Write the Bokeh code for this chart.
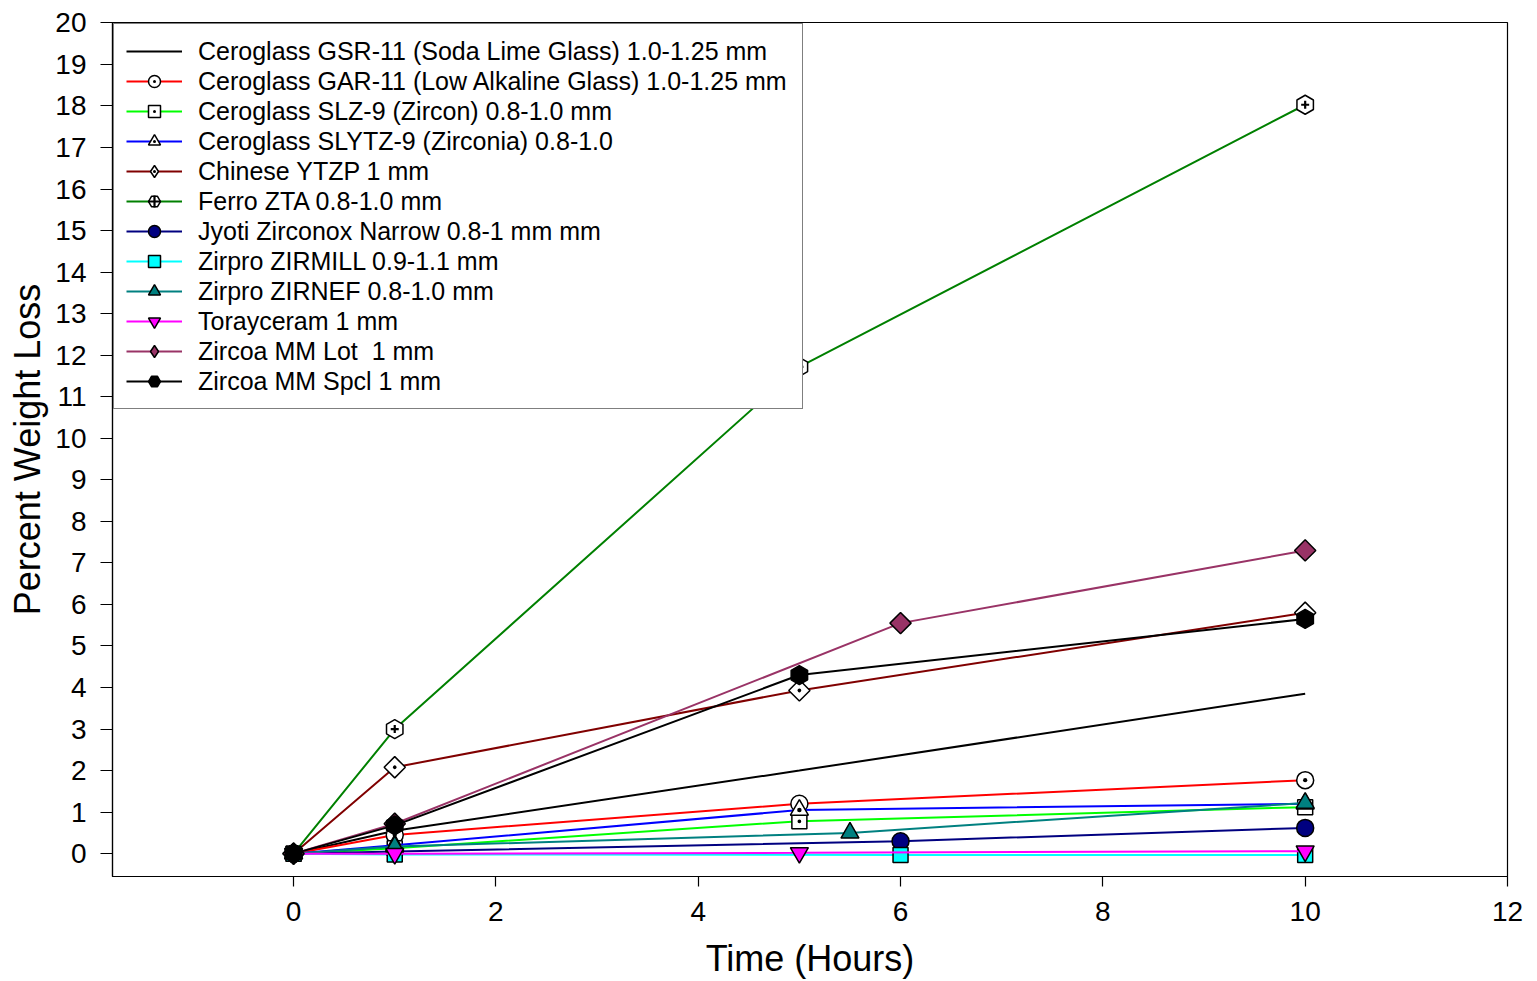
import math
from bokeh.plotting import figure
from bokeh.models import Range1d, Legend, LegendItem, ColumnDataSource
from bokeh.embed import file_html
from bokeh.resources import INLINE

# ---- data ----
time_a = [0, 1, 5, 10]
time_b = [0, 1, 6, 10]
time_c = [0, 1, 5.5, 10]

gsr11 = [0, 0.55, 2.0, 3.85]          # time_a
gar11 = [0, 0.45, 1.2, 1.77]          # time_a
slz9 = [0, 0.13, 0.78, 1.12]          # time_a
slytz9 = [0, 0.2, 1.05, 1.2]          # time_a
ytzp = [0, 2.08, 3.93, 5.8]           # time_a
ferro = [0, 3.0, 11.72, 18.03]        # time_a
jyoti = [0, 0.05, 0.3, 0.62]          # time_b
zirmill = [0, -0.02, -0.03, -0.03]    # time_b
zirnef = [0, 0.17, 0.5, 1.22]         # time_c
toray = [0, 0.0, 0.02, 0.06]          # time_a
mm_lot = [0, 0.72, 5.55, 7.3]         # time_b
mm_spcl = [0, 0.68, 4.3, 5.65]        # time_a

labels = [
    "Ceroglass GSR-11 (Soda Lime Glass) 1.0-1.25 mm",
    "Ceroglass GAR-11 (Low Alkaline Glass) 1.0-1.25 mm",
    "Ceroglass SLZ-9 (Zircon) 0.8-1.0 mm",
    "Ceroglass SLYTZ-9 (Zirconia) 0.8-1.0",
    "Chinese YTZP 1 mm",
    "Ferro ZTA 0.8-1.0 mm",
    "Jyoti Zirconox Narrow 0.8-1 mm mm",
    "Zirpro ZIRMILL 0.9-1.1 mm",
    "Zirpro ZIRNEF 0.8-1.0 mm",
    "Torayceram 1 mm",
    "Zircoa MM Lot  1 mm",
    "Zircoa MM Spcl 1 mm",
]
x_title = "Time (Hours)"
y_title = "Percent Weight Loss"
x_ticks = [0, 2, 4, 6, 8, 10, 12]
y_ticks = list(range(0, 21))

FONT = "Liberation Sans"

p = figure(width=1537, height=981, output_backend="svg", toolbar_location=None,
           x_range=Range1d(-1.79, 12), y_range=Range1d(-0.55, 20.01),
           min_border_left=112, min_border_right=30, min_border_top=22, min_border_bottom=105)
p.grid.visible = False
p.outline_line_color = "black"
p.outline_line_width = 1.2
p.background_fill_color = "white"
p.border_fill_color = "white"

for ax in (p.xaxis[0], p.yaxis[0]):
    ax.axis_line_color = "black"
    ax.axis_line_width = 1.2
    ax.major_tick_line_color = "black"
    ax.major_tick_line_width = 1.2
    ax.major_tick_in = 0
    ax.minor_tick_in = 0
    ax.minor_tick_out = 0
    ax.major_label_text_font = FONT
    ax.major_label_text_font_size = "28px"
    ax.major_label_text_color = "black"
    ax.axis_label_text_font = FONT
    ax.axis_label_text_font_size = "36px"
    ax.axis_label_text_font_style = "normal"
    ax.axis_label_text_color = "black"

p.xaxis.ticker = x_ticks
p.yaxis.ticker = y_ticks
p.xaxis.major_tick_out = 10
p.yaxis.major_tick_out = 12
p.xaxis.major_label_standoff = 15
p.yaxis.major_label_standoff = 14
p.xaxis.axis_label = x_title
p.xaxis.axis_label_standoff = 14
p.xaxis.axis_label_text_line_height = 0.75
p.yaxis.axis_label = y_title
p.yaxis.axis_label_standoff = 4

LW = 2
MLW = 1.5
items = []
nan_src = ColumnDataSource(data=dict(x=[float("nan")], y=[float("nan")]))

def series(xs, ys, color, label, marker=None, size=16, fill="white", angle=0.0,
           extra=None, legend_marker=None):
    rs = [p.line(xs, ys, line_color=color, line_width=LW)]
    if marker:
        r = p.scatter(xs, ys, marker=marker, size=size, fill_color=fill,
                      line_color="black", line_width=MLW, angle=angle)
        if legend_marker is None:
            rs.append(r)
    if extra:
        rs.append(p.scatter(xs, ys, marker=extra[0], size=extra[1], line_color="black",
                            line_width=2.2, fill_color=None))
    if legend_marker is not None:
        rs.append(p.scatter("x", "y", source=nan_src, marker=legend_marker, size=size,
                            fill_color=fill, line_color="black", line_width=MLW))
    items.append(LegendItem(label=label, renderers=rs))

series(time_a, gsr11, "black", labels[0])
series(time_a, gar11, "#FF0000", labels[1], "circle_dot", 17)
series(time_a, slz9, "#00FF00", labels[2], "square_dot", 15)
series(time_a, slytz9, "#0000FF", labels[3], "triangle_dot", 18)
series(time_a, ytzp, "#800000", labels[4], "square_dot", 15, angle=math.pi / 4,
       legend_marker="diamond_dot")
series(time_a, ferro, "#008000", labels[5], "hex", 19, angle=math.pi / 6, extra=("cross", 8))
series(time_b, jyoti, "#000080", labels[6], "circle", 17, fill="#000080")
series(time_b, zirmill, "#00FFFF", labels[7], "square", 15, fill="#00FFFF")
series(time_c, zirnef, "#008080", labels[8], "triangle", 18, fill="#008080")
series(time_a, toray, "#FF00FF", labels[9], "inverted_triangle", 18, fill="#FF00FF")
series(time_b, mm_lot, "#993366", labels[10], "square", 15, fill="#993366", angle=math.pi / 4,
       legend_marker="diamond")
series(time_a, mm_spcl, "black", labels[11], "hex", 19, fill="black", angle=math.pi / 6)

legend = Legend(items=items, location="top_left", margin=1, padding=12, spacing=0,
                glyph_width=56, glyph_height=30, label_height=30, label_standoff=16,
                label_width=592,
                label_text_font=FONT, label_text_font_size="25px", label_text_color="black",
                border_line_color="black", border_line_width=1.2,
                background_fill_color="white", background_fill_alpha=1.0)
p.add_layout(legend)

open("out.html", "w").write(file_html(p, INLINE))
